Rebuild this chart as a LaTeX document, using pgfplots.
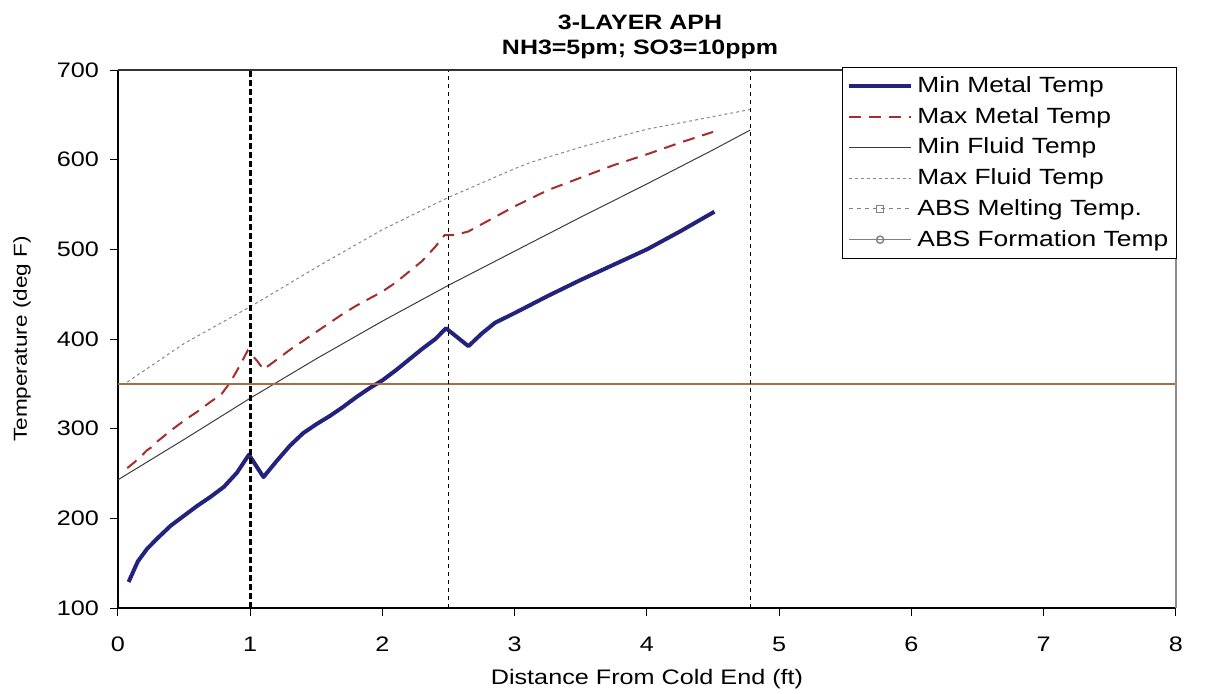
\documentclass[border=0pt]{standalone}
\usepackage{fontspec}
\setmainfont{Liberation Sans}[FakeStretch=1.2]
\usepackage{pgfplots}
\usepackage{pgfplotstable}
\pgfplotsset{compat=1.18}

\definecolor{minmetal}{RGB}{35,35,125}
\definecolor{maxmetal}{RGB}{165,45,45}
\definecolor{minfluid}{RGB}{60,60,60}
\definecolor{maxfluid}{RGB}{135,135,135}
\definecolor{abs}{RGB}{165,110,60}

\pgfplotstableread{
x y
0.08 129
0.15 152
0.22 166
0.30 178
0.40 192
0.50 203
0.60 214
0.70 224
0.80 235
0.90 251
0.99 271
1.10 246
1.20 264
1.30 281
1.40 295
1.50 305
1.60 314
1.70 324
1.80 335
1.90 345
2.00 354
2.10 365
2.20 377
2.30 389
2.40 400
2.48 412
2.65 392
2.75 406
2.85 418
3.00 429
3.25 448
3.50 466
3.75 483
4.00 500
4.25 520
4.51 542
}\minmetal

\pgfplotstableread{
x y
0.07 256
0.12 262
0.18 270
0.22 276
0.26 280
0.30 286
0.40 298
0.50 309
0.60 319
0.70 330
0.78 338
0.85 352
0.92 370
0.98 387
1.05 376
1.10 366
1.20 377
1.30 388
1.40 398
1.50 408
1.60 418
1.70 428
1.80 437
1.90 445
2.00 453
2.10 463
2.20 475
2.30 487
2.40 503
2.47 516
2.55 516
2.65 520
2.80 532
3.00 548
3.25 566
3.50 580
3.75 594
4.00 606
4.25 619
4.50 631
}\maxmetal

\pgfplotstableread{
x y
0.00 243
0.50 288
1.00 334
1.50 378
2.00 420
2.50 460
3.00 498
3.50 536
4.00 573
4.50 611
4.78 633
}\minfluid

\pgfplotstableread{
x y
0.07 352
0.50 395
1.00 436
1.50 480
2.00 522
2.36 548
2.50 558
3.00 590
3.12 597
3.50 614
3.87 629
4.00 634
4.50 648
4.78 656
}\maxfluid

\begin{document}
\begin{tikzpicture}
\path[use as bounding box] (-59pt,-42.5pt) rectangle (544pt,304pt);
\begin{axis}[
  at={(0,0)}, anchor=south west,
  scale only axis, width=529pt, height=269pt,
  xmin=0, xmax=8, ymin=100, ymax=700,
  xtick={0,1,...,8}, ytick={100,200,...,700},
  axis x line*=bottom, axis y line*=left,
  axis line style={black, line width=0.6pt, -},
  tick style={black, line width=0.5pt},
  major tick length=4pt, tick align=outside,
  /pgf/number format/assume math mode=true,
  ticklabel style={font=\fontsize{10.5}{12}\selectfont},
  xticklabel style={yshift=-7pt},
  yticklabel style={xshift=-2pt},
  xlabel={Distance From Cold End (ft)},
  ylabel={Temperature (deg F)},
  xlabel style={font=\fontsize{10.5}{12}\selectfont, at={(axis description cs:0.5,-0.1320)}, anchor=center},
  ylabel style={font=\fontsize{9.4}{11}\selectfont, at={(axis description cs:-0.0907,0.5)}, anchor=center},
  title={3-LAYER APH\\NH3=5pm; SO3=10ppm},
  title style={font=\bfseries\fontsize{10.4}{12.5}\selectfont, align=center, at={(axis description cs:0.4934,1.039)}, anchor=center},
  legend cell align=left,
  legend style={at={(axis description cs:1.0008,1.0056)}, anchor=north east,
    draw=black, line width=0.5pt, fill=white,
    font=\fontsize{11}{13}\selectfont, row sep=1.9pt, inner xsep=2pt, inner ysep=2.5pt},
  legend image code/.code={\draw[mark repeat=2,mark phase=2,#1] plot coordinates {(0cm,0cm) (0.55cm,0cm) (1.1cm,0cm)};},
  legend entries={Min Metal Temp, Max Metal Temp, Min Fluid Temp, Max Fluid Temp, ABS Melting Temp., ABS Formation Temp},
  clip=false,
]
\addplot[minmetal, line width=2pt, line join=round] table[x=x,y=y] {\minmetal};
\addplot[maxmetal, line width=1pt, dash pattern=on 6pt off 4pt] table[x=x,y=y] {\maxmetal};
\addplot[minfluid, line width=0.5pt] table[x=x,y=y] {\minfluid};
\addplot[maxfluid, line width=0.5pt, dash pattern=on 1.5pt off 1.5pt] table[x=x,y=y] {\maxfluid};
\addlegendimage{gray, line width=0.5pt, dash pattern=on 2pt off 2pt, mark=square, mark options={solid, fill=white, scale=0.9}}
\addlegendimage{gray, line width=0.7pt, mark=o, mark options={solid, fill=white, scale=0.9}}
\addplot[abs, line width=1pt, forget plot] coordinates {(0,350) (8,350)};
\addplot[black, line width=1.5pt, dash pattern=on 3pt off 1.5pt, forget plot] coordinates {(1,100) (1,700)};
\addplot[black, line width=0.6pt, dash pattern=on 2pt off 2pt, forget plot] coordinates {(2.5,100) (2.5,700)};
\addplot[black, line width=0.6pt, dash pattern=on 2pt off 2pt, forget plot] coordinates {(4.78,100) (4.78,700)};
\draw[black!80, line width=0.6pt] (rel axis cs:0,1) -- (rel axis cs:1,1);
\draw[black!45, line width=0.6pt] (rel axis cs:1,1) -- (rel axis cs:1,0);
\end{axis}
\end{tikzpicture}
\end{document}
